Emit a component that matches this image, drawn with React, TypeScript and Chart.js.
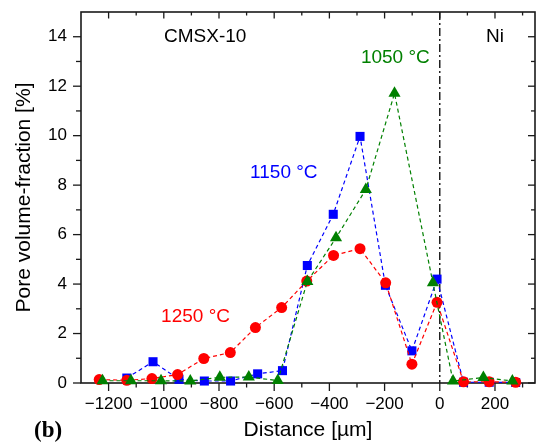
import { useEffect, useRef } from 'react';
import { Chart, registerables } from 'chart.js';

Chart.register(...registerables);

// Axis tick values
const xMajorTicks = [-1200, -1000, -800, -600, -400, -200, 0, 200];
const xMinorTicks = [-1100, -900, -700, -500, -300, -100, 100, 300];
const yMajorTicks = [0, 2, 4, 6, 8, 10, 12, 14];
const yMinorTicks = [1, 3, 5, 7, 9, 11, 13];

// 1250 °C
const dist1250 = [-1234, -1134, -1043, -950, -855, -759, -668, -573, -482, -385, -289, -196, -101, -10, 86, 179, 275];
const frac1250 = [0.14, 0.11, 0.18, 0.34, 0.99, 1.23, 2.24, 3.05, 4.12, 5.16, 5.43, 4.05, 0.76, 3.26, 0.05, 0.05, 0.03];

// 1150 °C
const dist1150 = [-1134, -1039, -945, -853, -758, -660, -570, -480, -386, -289, -197, -101, -10, 86, 179, 275];
const frac1150 = [0.2, 0.86, 0.15, 0.08, 0.08, 0.37, 0.5, 4.75, 6.82, 9.97, 3.95, 1.3, 4.2, 0.03, 0.03, 0.02];

// 1050 °C
const dist1050 = [-1222, -1119, -1010, -904, -797, -692, -587, -480, -376, -268, -164, -25, 48, 158, 263];
const frac1050 = [0.09, 0.09, 0.09, 0.08, 0.23, 0.24, 0.1, 4.1, 5.87, 7.82, 11.71, 4.05, 0.08, 0.22, 0.08];

const RED = '#ff0000';
const BLUE = '#0000ff';
const GREEN = '#008000';
const SANS = '"Liberation Sans", Arial, sans-serif';

// Text placed inside the plot, in data coordinates
const notes = [
  { text: 'CMSX-10', x: -850, y: 14, color: '#000' },
  { text: 'Ni', x: 200, y: 14, color: '#000' },
  { text: '1050 °C', x: -161, y: 13.13, color: GREEN },
  { text: '1150 °C', x: -565, y: 8.49, color: BLUE },
  { text: '1250 °C', x: -885, y: 2.68, color: RED },
];

const toPoints = (xs: number[], ys: number[]) => xs.map((v, i) => ({ x: v, y: ys[i] }));
const fmt = (v: number) => String(v).replace('-', '\u2212');

const framePlugin = {
  id: 'frameAndTicks',
  beforeDatasetsDraw(chart: any) {
    const { ctx, chartArea: a, scales } = chart;
    const xs = scales.x;
    const ys = scales.y;
    ctx.save();

    // interface line at x = 0
    const x0 = xs.getPixelForValue(0);
    ctx.strokeStyle = '#000';
    ctx.lineWidth = 1.3;
    ctx.setLineDash([8, 3, 2, 3]);
    ctx.beginPath();
    ctx.moveTo(x0, a.top);
    ctx.lineTo(x0, a.bottom);
    ctx.stroke();
    ctx.setLineDash([]);

    // frame
    ctx.strokeStyle = '#1a1a1a';
    ctx.lineWidth = 1.6;
    ctx.strokeRect(a.left, a.top, a.right - a.left, a.bottom - a.top);

    const seg = (x1: number, y1: number, x2: number, y2: number) => {
      ctx.beginPath();
      ctx.moveTo(x1, y1);
      ctx.lineTo(x2, y2);
      ctx.stroke();
    };
    ctx.lineWidth = 1.3;
    xMajorTicks.forEach((v) => {
      const p = xs.getPixelForValue(v);
      seg(p, a.bottom, p, a.bottom + 8);
      seg(p, a.top, p, a.top + 6.5);
    });
    xMinorTicks.forEach((v) => {
      const p = xs.getPixelForValue(v);
      seg(p, a.bottom, p, a.bottom + 4.5);
      seg(p, a.top, p, a.top + 3.5);
    });
    yMajorTicks.forEach((v) => {
      const p = ys.getPixelForValue(v);
      seg(a.left - 8, p, a.left, p);
      seg(a.right - 7, p, a.right, p);
    });
    yMinorTicks.forEach((v) => {
      const p = ys.getPixelForValue(v);
      seg(a.left - 5, p, a.left, p);
      seg(a.right - 4, p, a.right, p);
    });
    ctx.restore();
  },
  afterDraw(chart: any) {
    const { ctx, scales } = chart;
    ctx.save();
    ctx.textAlign = 'center';
    ctx.textBaseline = 'middle';
    ctx.font = `19px ${SANS}`;
    notes.forEach((n) => {
      ctx.fillStyle = n.color;
      ctx.fillText(n.text, scales.x.getPixelForValue(n.x), scales.y.getPixelForValue(n.y));
    });
    // panel letter
    ctx.fillStyle = '#000';
    ctx.textAlign = 'left';
    ctx.font = `bold 23px "Liberation Serif", "Times New Roman", serif`;
    ctx.fillText('(b)', 34, 431);
    ctx.restore();
  },
};

export default function App() {
  const ref = useRef<HTMLCanvasElement>(null);

  useEffect(() => {
    if (!ref.current) return;
    const series = (label: string, xs: number[], ys: number[], color: string, style: string, r: number, order: number) => ({
      label,
      data: toPoints(xs, ys),
      borderColor: color,
      backgroundColor: color,
      pointBackgroundColor: color,
      pointStyle: style,
      pointRadius: r,
      pointBorderWidth: 0,
      borderWidth: 1.2,
      borderDash: [4, 3],
      tension: 0,
      clip: false,
      order,
    });

    const chart = new Chart(ref.current, {
      type: 'line',
      data: {
        datasets: [
          series('1050 °C', dist1050, frac1050, GREEN, 'triangle', 7, 0),
          series('1250 °C', dist1250, frac1250, RED, 'circle', 5.5, 1),
          series('1150 °C', dist1150, frac1150, BLUE, 'rect', 6.4, 2),
        ] as any,
      },
      options: {
        animation: false,
        responsive: false,
        devicePixelRatio: 1,
        layout: { padding: { top: 12, right: 3, left: 0, bottom: 0 } },
        plugins: { legend: { display: false }, tooltip: { enabled: false } },
        scales: {
          x: {
            type: 'linear',
            min: -1300,
            max: 345,
            afterBuildTicks: (s: any) => {
              s.ticks = xMajorTicks.map((v) => ({ value: v }));
            },
            afterFit: (s: any) => {
              s.height = 60;
              s.paddingLeft = 0;
              s.paddingRight = 0;
            },
            grid: { display: false, drawTicks: false },
            border: { display: false },
            ticks: {
              callback: (v: any) => fmt(Number(v)),
              font: { family: SANS, size: 17 },
              color: '#000',
              padding: 11,
              maxRotation: 0,
              autoSkip: false,
            },
            title: {
              display: true,
              text: 'Distance [µm]',
              font: { family: SANS, size: 21 },
              color: '#000',
              padding: { top: 0, bottom: 0 },
            },
          },
          y: {
            type: 'linear',
            min: 0,
            max: 15,
            afterBuildTicks: (s: any) => {
              s.ticks = yMajorTicks.map((v) => ({ value: v }));
            },
            afterFit: (s: any) => {
              s.width = 81;
              s.paddingTop = 0;
              s.paddingBottom = 0;
            },
            grid: { display: false, drawTicks: false },
            border: { display: false },
            ticks: {
              callback: (v: any) => fmt(Number(v)),
              font: { family: SANS, size: 17 },
              color: '#000',
              padding: 14,
            },
            title: {
              display: true,
              text: 'Pore volume-fraction [%]',
              font: { family: SANS, size: 21 },
              color: '#000',
              padding: { top: 12, bottom: 0 },
            },
          },
        },
      },
      plugins: [framePlugin],
    } as any);

    return () => chart.destroy();
  }, []);

  return (
    <div style={{ position: 'fixed', left: 0, top: 0, width: 542, height: 443, background: '#fff' }}>
      <canvas ref={ref} width={542} height={443} style={{ display: 'block' }} />
    </div>
  );
}
